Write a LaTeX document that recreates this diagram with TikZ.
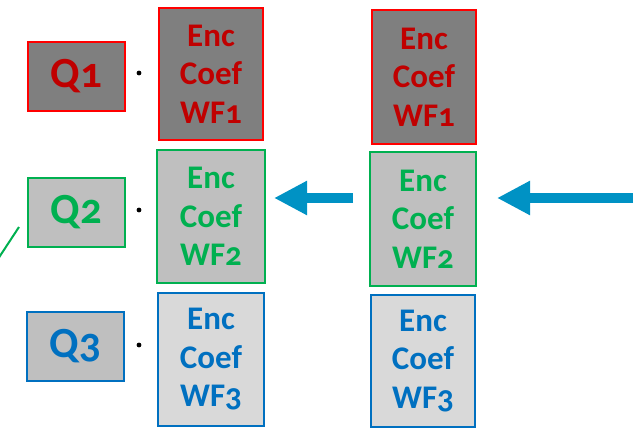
\documentclass[tikz,border=0pt]{standalone}
\usepackage{fontspec}
\setmainfont{Carlito}[Numbers=OldStyle]
\usetikzlibrary{arrows.meta}
\definecolor{rRed}{HTML}{FF0000}
\definecolor{rRedTxt}{HTML}{C00000}
\definecolor{gGreen}{HTML}{00B050}
\definecolor{bBlue}{HTML}{0070C0}
\definecolor{darkFill}{HTML}{7F7F7F}
\definecolor{midFill}{HTML}{BFBFBF}
\definecolor{lightFill}{HTML}{D9D9D9}
\definecolor{arrowBlue}{RGB}{0,146,196}
\tikzset{
  qbox/.style={draw, line width=2pt, minimum width=97pt, minimum height=69pt,
    inner sep=0pt, font=\fontsize{43}{46}\selectfont\bfseries},
  encbox/.style={draw, line width=2pt, minimum width=104pt, minimum height=132pt,
    inner sep=0pt, align=center, font=\fontsize{33}{38.5}\selectfont\bfseries},
  redset/.style={rRed, fill=darkFill, text=rRedTxt},
  greenset/.style={gGreen, fill=midFill, text=gGreen},
  blueset/.style={bBlue, text=bBlue},
  dotmark/.style={circle, fill=black, inner sep=0pt, minimum size=4.8pt},
  fatarrow/.style={arrowBlue, line width=10.5pt,
    -{Triangle[length=33pt, width=32pt]}}
}
\begin{document}
\begin{tikzpicture}[x=1pt, y=-1pt]
\useasboundingbox (0,0) rectangle (641,428);

% weight boxes
\node[qbox, redset]   (q1) at (76.5,76.5)  {Q1};
\node[qbox, greenset] (q2) at (76.5,212.5) {Q2};
\node[qbox, blueset, fill=midFill] (q3) at (75.5,346.5) {Q3};

% multiplication dots
\node[dotmark] (d1) at (139,73)  {};
\node[dotmark] (d2) at (139,210) {};
\node[dotmark] (d3) at (139,345) {};

% left column of encoded coefficients
\node[encbox, redset]   (e1) at (211,74)    {Enc\\Coef\\WF1};
\node[encbox, greenset, minimum width=108pt, minimum height=133pt] (e2) at (211,216.5) {Enc\\Coef\\WF2};
\node[encbox, blueset, fill=lightFill, minimum width=106pt, minimum height=133pt] (e3) at (211,359.5) {Enc\\Coef\\WF3};

% right column of encoded coefficients
\node[encbox, redset, minimum height=134pt]   (r1) at (424,77)  {Enc\\Coef\\WF1};
\node[encbox, greenset, minimum width=106pt, minimum height=134pt] (r2) at (423,219) {Enc\\Coef\\WF2};
\node[encbox, blueset, fill=lightFill, minimum height=132pt] (r3) at (423,361) {Enc\\Coef\\WF3};

% flow arrows
\coordinate (a1s) at (353,198);
\coordinate (a1e) at (274,198);
\coordinate (a2s) at (633,198);
\coordinate (a2e) at (497,198);
\draw[fatarrow] (a1s) -- (a1e);
\draw[fatarrow] (a2s) -- (a2e);

% partial green line at the left edge
\coordinate (g0) at (-2,259);
\coordinate (g1) at (19,227);
\draw[gGreen, line width=2pt] (g0) -- (g1);
\end{tikzpicture}
\end{document}
